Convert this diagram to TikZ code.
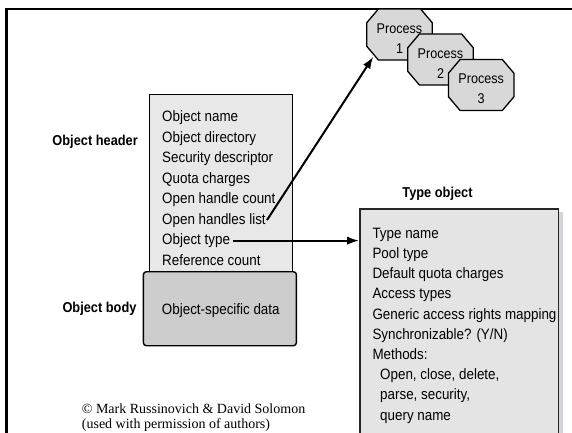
\documentclass[tikz,border=0pt]{standalone}
\usepackage{graphicx}
\usepackage{fontspec}
\setmainfont{Liberation Sans}
\newfontfamily\cpyfont{Liberation Serif}
\usetikzlibrary{arrows.meta}
\definecolor{hdrfill}{HTML}{E8E8E8}
\definecolor{bodyfill}{HTML}{CDCDCD}
\definecolor{octfill}{HTML}{D8D8D8}
\definecolor{typefill}{HTML}{E4E4E4}
\definecolor{shadowc}{HTML}{D4D4DC}
\newcommand\vstr[1]{\scalebox{1}[1.12]{#1}}
\begin{document}
\begin{tikzpicture}[x=1pt,y=-1pt,
  txt/.style={font=\fontsize{13.4}{16}\selectfont, anchor=base west, inner sep=0pt},
  lbl/.style={font=\bfseries\fontsize{12.8}{15}\selectfont, inner sep=0pt},
  ptxt/.style={font=\fontsize{12.6}{20}\selectfont, align=center, inner sep=0pt},
  cpy/.style={font=\cpyfont\fontsize{14}{16}\selectfont, anchor=base west, inner sep=0pt},
  octa/.style={draw=black, line width=1.3pt, fill=octfill, line join=miter},
  arr/.style={line width=2pt, -{Latex[length=12pt,width=8.5pt]}},
  hdrbox/.style={draw=black, line width=1.1pt, fill=hdrfill, anchor=north west, inner sep=0pt},
  bodybox/.style={draw=black, line width=1.4pt, fill=bodyfill, rounded corners=3pt, anchor=north west, inner sep=0pt},
  typebox/.style={draw=black!85, line width=1.8pt, fill=typefill, anchor=north west, inner sep=0pt}
]
\clip (0,0) rectangle (572,432);
\fill[white] (0,0) rectangle (572,432);

% outer frame
\draw[line width=2.2pt] (6.5,440) -- (6.5,9) -- (580,9);

% header and body boxes
\node[hdrbox, minimum width=143.5pt, minimum height=177pt] (hdr) at (148.5,94) {};
\node[bodybox, minimum width=153pt, minimum height=74pt] (body) at (142.7,271) {};
\node[font=\fontsize{13.4}{16}\selectfont, inner sep=0pt, anchor=base] (bodytxt) at (220.8,314) {\vstr{Object-specific data}};

% header lines
\node[txt] (h1) at (162,121.7) {\vstr{Object name}};
\node[txt] (h2) at (162,142.2) {\vstr{Object directory}};
\node[txt] (h3) at (162,162.6) {\vstr{Security descriptor}};
\node[txt] (h4) at (162,183.1) {\vstr{Quota charges}};
\node[txt] (h5) at (162,203.6) {\vstr{Open handle count}};
\node[txt] (h6) at (162,224.0) {\vstr{Open handles list}};
\node[txt] (h7) at (162,244.5) {\vstr{Object type}};
\node[txt] (h8) at (162,265.0) {\vstr{Reference count}};

% labels
\node[lbl, anchor=base east] (lhdr) at (138,145.3) {\vstr{Object header}};
\node[lbl, anchor=base east] (lbody) at (136.7,312.9) {\vstr{Object body}};
\node[lbl, anchor=base] (ltype) at (437.5,197.9) {\vstr{Type object}};

% type object box
\fill[shadowc] (362,212) rectangle (563,460);
\node[typebox, minimum width=198.5pt, minimum height=260pt] (tbox) at (359,208.3) {};
\node[txt] (t1) at (372.3,238.3) {\vstr{Type name}};
\node[txt] (t2) at (372.3,258.5) {\vstr{Pool type}};
\node[txt] (t3) at (372.3,278.7) {\vstr{Default quota charges}};
\node[txt] (t4) at (372.3,298.9) {\vstr{Access types}};
\node[txt] (t5) at (372.3,319.1) {\vstr{Generic access rights mapping}};
\node[txt] (t6) at (372.3,339.3) {\vstr{Synchronizable? (Y/N)}};
\node[txt] (t7) at (372.3,359.5) {\vstr{Methods:}};
\node[txt] (t8) at (380,379.7) {\vstr{Open, close, delete,}};
\node[txt] (t9) at (380,399.9) {\vstr{parse, security,}};
\node[txt] (t10) at (380,420.1) {\vstr{query name}};

% process octagons
\foreach \n/\cx/\cy in {1/399.5/34.5, 2/440.5/59.5, 3/481.2/85} {
  \draw[octa] (\cx-21.1,\cy-25.5) -- (\cx+21.1,\cy-25.5) -- (\cx+32.8,\cy-11.7)
    -- (\cx+32.8,\cy+11.7) -- (\cx+21.1,\cy+25.5) -- (\cx-21.1,\cy+25.5)
    -- (\cx-32.8,\cy+11.7) -- (\cx-32.8,\cy-11.7) -- cycle;
  \node[ptxt] (p\n) at (\cx,\cy+3.7) {\vstr{Process}\\\vstr{\n}};
}
\coordinate (p1tip) at (373.3,56.7);

% copyright
\node[cpy] (c1) at (81.7,413) {© Mark Russinovich \& David Solomon};
\node[cpy] (c2) at (81.7,428.6) {(used with permission of authors)};

% connectors
\draw[arr] ([xshift=1pt]h6.east) -- (p1tip);
\draw[arr] ([xshift=3pt]h7.east) -- (h7.east -| tbox.west);
\end{tikzpicture}
\end{document}
